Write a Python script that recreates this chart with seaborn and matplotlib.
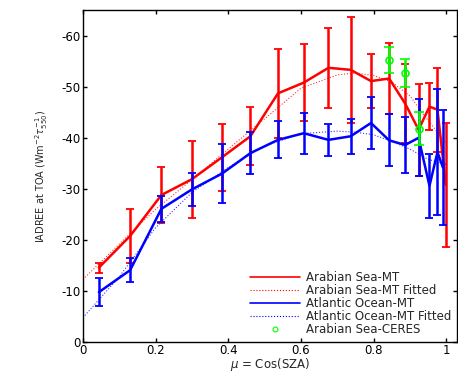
import matplotlib
matplotlib.use("Agg")
import matplotlib.pyplot as plt
from matplotlib.lines import Line2D
import seaborn as sns

# Arabian Sea (MT) - binned IADREE vs mu
mu_red = [0.044, 0.130, 0.216, 0.300, 0.383, 0.461, 0.537, 0.608, 0.676,
          0.737, 0.793, 0.843, 0.887, 0.924, 0.954, 0.976, 0.999]
red_mt = [-14.6, -20.8, -28.8, -31.9, -36.2, -40.3, -48.7, -50.8, -53.7,
          -53.3, -51.1, -51.6, -46.7, -41.6, -46.1, -45.5, -30.8]
red_err = [1.0, 5.2, 5.4, 7.5, 6.6, 5.7, 8.7, 7.5, 7.8,
           10.4, 5.3, 7.0, 7.7, 9.0, 4.6, 8.2, 12.1]

# Atlantic Ocean (MT)
mu_blue = [0.044, 0.130, 0.216, 0.300, 0.383, 0.461, 0.537, 0.608, 0.676,
           0.737, 0.793, 0.843, 0.887, 0.924, 0.954, 0.976, 0.991]
blue_mt = [-9.8, -14.1, -26.1, -29.9, -33.0, -37.0, -39.6, -40.9, -39.6,
           -40.3, -42.9, -39.5, -38.6, -40.0, -30.6, -37.2, -34.2]
blue_err = [2.7, 2.4, 2.6, 3.2, 5.8, 4.1, 3.6, 4.0, 3.1,
            3.4, 5.0, 5.1, 5.5, 7.5, 6.3, 12.4, 11.3]

# Arabian Sea (CERES)
mu_ceres = [0.843, 0.887, 0.924]
ceres = [-55.2, -52.7, -41.8]
ceres_err = [2.5, 2.7, 3.2]

# fitted curves
fit_mu = [0.0, 0.1, 0.2, 0.3, 0.4, 0.5, 0.6, 0.7, 0.75, 0.8, 0.85, 0.9, 0.95, 1.0]
red_fit = [-12.3, -19.2, -26.0, -31.8, -37.8, -43.7, -49.7, -52.3, -52.7,
           -52.2, -50.9, -48.2, -43.4, -39.0]
blue_fit = [-4.8, -12.8, -22.4, -29.3, -34.2, -38.4, -40.8, -41.3, -41.1,
            -40.6, -39.3, -37.8, -35.8, -34.8]

xticks = [0, 0.2, 0.4, 0.6, 0.8, 1]
xtick_labels = ["0", "0.2", "0.4", "0.6", "0.8", "1"]
yticks = [0, -10, -20, -30, -40, -50, -60]
ytick_labels = ["0", "-10", "-20", "-30", "-40", "-50", "-60"]

sns.set_theme(style="ticks")
plt.rcParams["font.family"] = ["DejaVu Sans"]

fig = plt.figure(figsize=(4.58, 3.72), dpi=100)
ax = fig.add_axes([0.181, 0.080, 0.817, 0.893])

red = "#ff0000"
blue = "#0000ff"
green = "#00ff00"

sns.lineplot(x=mu_red, y=red_mt, ax=ax, color=red, lw=1.8, sort=False)
ax.errorbar(mu_red, red_mt, yerr=red_err, fmt="none", ecolor=red,
            elinewidth=1.8, capsize=2.8, capthick=1.3)
ax.plot(fit_mu, red_fit, color=red, lw=0.8, ls=":", alpha=0.8)

sns.lineplot(x=mu_blue, y=blue_mt, ax=ax, color=blue, lw=1.8, sort=False)
ax.errorbar(mu_blue, blue_mt, yerr=blue_err, fmt="none", ecolor=blue,
            elinewidth=1.8, capsize=2.8, capthick=1.3)
ax.plot(fit_mu, blue_fit, color=blue, lw=0.8, ls=":", alpha=0.8)

ax.errorbar(mu_ceres, ceres, yerr=ceres_err, fmt="o", color=green,
            mfc="none", mec=green, ms=5, mew=1.2, elinewidth=1.8,
            capsize=3.5, capthick=1.3)

# legend
handles = [
    Line2D([], [], color=red, lw=1.2),
    Line2D([], [], color=red, lw=0.8, ls=":"),
    Line2D([], [], color=blue, lw=1.2),
    Line2D([], [], color=blue, lw=0.8, ls=":"),
    Line2D([], [], color=green, ls="none", marker="o", mfc="none", ms=3.5, mew=0.8),
]
labels = ["Arabian Sea-MT", "Arabian Sea-MT Fitted", "Atlantic Ocean-MT",
          "Atlantic Ocean-MT Fitted", "Arabian Sea-CERES"]
ax.legend(handles, labels, loc="lower right", frameon=False, fontsize=8.5,
          handlelength=4.2, labelspacing=0.0, borderaxespad=0.1,
          handletextpad=0.5, bbox_to_anchor=(1.0, 0.0))

ax.set_xlim(0, 1.03)
ax.set_ylim(0, -65)
ax.set_xticks(xticks)
ax.set_xticklabels(xtick_labels)
ax.set_yticks(yticks)
ax.set_yticklabels(ytick_labels)
ax.tick_params(direction="in", top=True, right=True, length=3, width=1,
               labelsize=8.5, pad=1.5, colors="black")
for s in ax.spines.values():
    s.set_linewidth(1.0)
    s.set_color("black")

ax.set_xlabel(r"$\mu$ = Cos(SZA)", fontsize=8.5, labelpad=-1)
ax.set_ylabel(r"IADREE at TOA (Wm$^{-2}\tau^{-1}_{550}$)", fontsize=7, labelpad=8)

fig.savefig("out.png", dpi=100)
